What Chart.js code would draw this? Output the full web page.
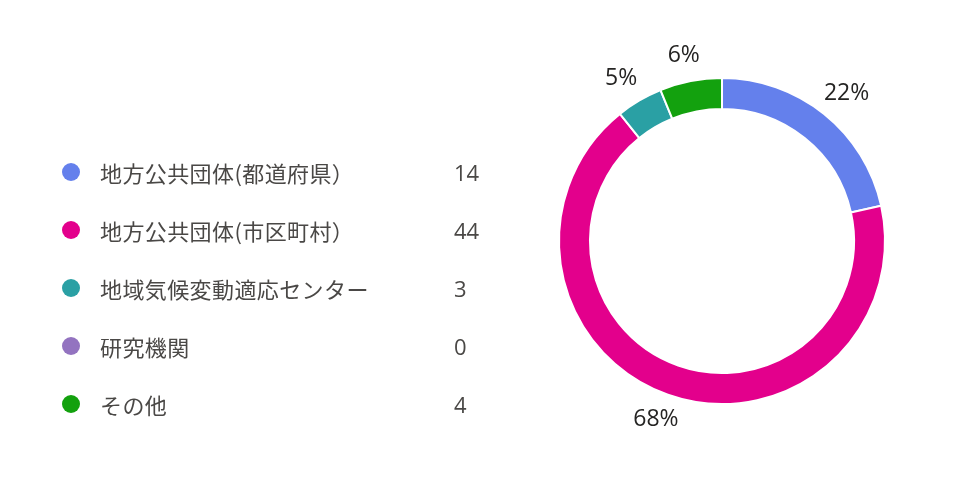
<!DOCTYPE html>
<html><head><meta charset="utf-8">
<script src="https://cdn.jsdelivr.net/npm/chart.js@4.4.1/dist/chart.umd.min.js"></script>
<style>
html,body{margin:0;padding:0;background:#fff;}
#wrap{position:relative;width:960px;height:480px;}
#c{position:absolute;left:0;top:0;}
#legend{position:absolute;left:0;top:0;width:560px;height:480px;font-family:"Noto Sans CJK JP","Noto Sans",sans-serif;}
.row{position:absolute;left:0;height:30px;line-height:30px;font-size:22px;color:#4a4846;}
.dot{position:absolute;left:62px;top:6px;width:18px;height:18px;border-radius:50%;}
.lbl{position:absolute;left:100px;white-space:nowrap;letter-spacing:0.4px;}
.val{position:absolute;left:454px;white-space:nowrap;font-family:"Open Sans","Noto Sans",sans-serif;font-size:22px;}
</style></head>
<body><div id="wrap"><canvas id="c" width="960" height="480"></canvas><div id="legend"></div></div>
<script>
const categories = ["地方公共団体(都道府県）","地方公共団体(市区町村）","地域気候変動適応センター","研究機関","その他"];
const values = [14,44,3,0,4];
const colors = ["#6480EC","#E3008C","#2AA0A4","#9373C0","#13A10E"];

const total = values.reduce((a,b)=>a+b,0);
const leg = document.getElementById('legend');
categories.forEach((c,i)=>{
  const r = document.createElement('div');
  r.className='row'; r.style.top=(157+i*58)+'px'; r.style.width='560px';
  r.innerHTML='<span class="dot" style="background:'+colors[i]+'"></span><span class="lbl">'+c+'</span><span class="val">'+values[i]+'</span>';
  leg.appendChild(r);
});

const pctLabels = {
  id:'pctLabels',
  afterDatasetsDraw(chart){
    const ctx=chart.ctx;
    const meta=chart.getDatasetMeta(0);
    ctx.save();
    ctx.font='23px "Open Sans","Noto Sans",sans-serif';
    ctx.fillStyle='#252423';
    ctx.textAlign='center'; ctx.textBaseline='middle';
    meta.data.forEach((arc,i)=>{
      if(!values[i]) return;
      const p=arc.getProps(['x','y','startAngle','endAngle','outerRadius'],true);
      const a=(p.startAngle+p.endAngle)/2;
      const rx=p.outerRadius+36, ry=p.outerRadius+26;
      const pct=Math.round(values[i]/total*100)+'%';
      ctx.fillText(pct,p.x+Math.cos(a)*rx,p.y+Math.sin(a)*ry);
    });
    ctx.restore();
  }
};

new Chart(document.getElementById('c'),{
  type:'doughnut',
  data:{labels:categories,datasets:[{data:values,backgroundColor:colors,borderColor:'#ffffff',borderWidth:2,hoverOffset:0}]},
  options:{
    responsive:false,animation:false,cutout:'81%',
    layout:{padding:{left:558,right:74,top:77,bottom:75}},
    plugins:{legend:{display:false},tooltip:{enabled:false}}
  },
  plugins:[pctLabels]
});
</script></body></html>
